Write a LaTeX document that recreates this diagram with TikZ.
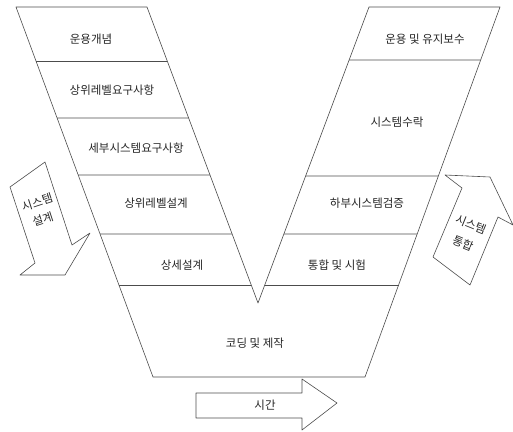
\documentclass[tikz,border=0pt]{standalone}
\usepackage{fontspec}
\setmainfont{Noto Sans CJK KR}
\usetikzlibrary{calc}

\tikzset{
  vline/.style={line width=.6pt,color=black!70,line join=round},
  vlabel/.style={font=\fontsize{11.5}{15}\selectfont,text=black!85,inner sep=0pt,align=center},
}

\begin{document}
\begin{tikzpicture}[x=1pt,y=-1pt]
\useasboundingbox (0,0) rectangle (513,431);
% corners of the V
\coordinate (lt) at (16,7);
\coordinate (li) at (147,7);
\coordinate (v)  at (258,303);
\coordinate (ri) at (369,7);
\coordinate (rt) at (500,7);
\coordinate (rb) at (365,377);
\coordinate (lb) at (153,377);
\draw[vline] (lt) -- (li) -- (v) -- (ri) -- (rt) -- (rb) -- (lb) -- cycle;
% stage borders
\foreach \y in {61,118,175,234,285}
  \draw[vline] ($(lt)!{(\y-7)/370}!(lb)$) -- ($(li)!{(\y-7)/296}!(v)$);
\foreach \y in {60,176,234,285}
  \draw[vline] ($(ri)!{(\y-7)/296}!(v)$) -- ($(rt)!{(\y-7)/370}!(rb)$);
% stages, left arm
\node[vlabel] (opcon) at (91,39) {운용개념};
\node[vlabel] (toprq) at (112,90) {상위레벨요구사항};
\node[vlabel] (subrq) at (136,148) {세부시스템요구사항};
\node[vlabel] (topds) at (156,203) {상위레벨설계};
\node[vlabel] (detds) at (182,265) {상세설계};
\node[vlabel] (code)  at (255,343) {코딩 및 제작};
% stages, right arm
\node[vlabel] (opmnt) at (425,39) {운용 및 유지보수};
\node[vlabel] (accpt) at (397,122) {시스템수락};
\node[vlabel] (subvf) at (367,203) {하부시스템검증};
\node[vlabel] (integ) at (337,265) {통합 및 시험};
% big arrows
\draw[vline] (10,187) -- (45,162) -- (72,245) -- (90,233) -- (65,275)
  -- (20,275) -- (35,263) -- cycle;
\node[vlabel,rotate=18] (sysds) at (40,211) {시스템\\[3pt]설계};
\draw[vline] (445,175) -- (490,177) -- (513,225) -- (498,217) -- (470,285)
  -- (433,257) -- (462,188) -- cycle;
\node[vlabel,rotate=-22] (sysin) at (467,234) {시스템\\[6pt]통합};
\draw[vline] (196,393) -- (302,393) -- (302,379) -- (337,403) -- (302,430)
  -- (302,418) -- (196,418) -- cycle;
\node[vlabel] (time) at (265,405) {시간};
\end{tikzpicture}
\end{document}
